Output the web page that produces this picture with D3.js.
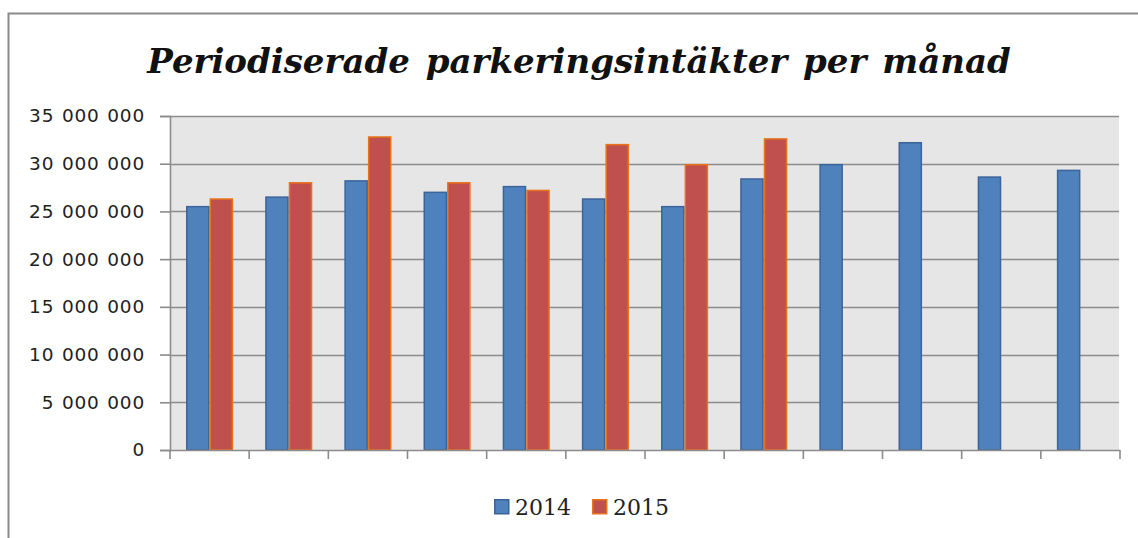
<!DOCTYPE html>
<html>
<head>
<meta charset="utf-8">
<script src="https://cdn.jsdelivr.net/npm/d3@7"></script>
<style>
  html, body { margin: 0; padding: 0; background: #fff; }
  svg { display: block; }
</style>
</head>
<body>
<svg id="chart" width="1138" height="538"></svg>
<script>
// Monthly accrued parking revenue (SEK), Jan–Dec
const months = ["Jan", "Feb", "Mar", "Apr", "Maj", "Jun", "Jul", "Aug", "Sep", "Okt", "Nov", "Dec"];
const seriesNames = ["2014", "2015"];
const values2014 = [25500000, 26500000, 28200000, 27000000, 27600000, 26300000, 25500000, 28400000, 29900000, 32200000, 28600000, 29300000];
const values2015 = [26300000, 28000000, 32800000, 28000000, 27200000, 32000000, 29900000, 32600000, null, null, null, null];
const yTicks = [0, 5000000, 10000000, 15000000, 20000000, 25000000, 30000000, 35000000];
const titleText = "Periodiserade parkeringsintäkter per månad";

const svg = d3.select("#chart");
const W = 1138, H = 538;
const plot = { left: 170, right: 1120, top: 116, bottom: 450 };

// outer chart frame (only top and left edges fall inside the view)
svg.append("path")
  .attr("d", `M8.5,${H} L8.5,13.5 L${W},13.5`)
  .attr("fill", "none")
  .attr("stroke", "#8a8a8a")
  .attr("stroke-width", 2);

// title
svg.append("text")
  .attr("x", 579)
  .attr("y", 73)
  .attr("text-anchor", "middle")
  .attr("font-family", "'DejaVu Serif', serif")
  .attr("font-weight", "bold")
  .attr("font-style", "italic")
  .attr("font-size", 34)
  .attr("word-spacing", 4)
  .attr("fill", "#111")
  .text(titleText);

const x = d3.scaleBand().domain(months).range([plot.left, plot.right]).padding(0);
const y = d3.scaleLinear().domain([0, 35000000]).range([plot.bottom, plot.top]);

// plot area background
svg.append("rect")
  .attr("x", plot.left)
  .attr("y", plot.top)
  .attr("width", plot.right - plot.left - 1)
  .attr("height", plot.bottom - plot.top)
  .attr("fill", "#e6e6e6");

// horizontal gridlines
svg.append("g")
  .selectAll("line")
  .data(yTicks.filter(d => d > 0))
  .join("line")
  .attr("x1", plot.left)
  .attr("x2", plot.right - 1)
  .attr("y1", d => Math.round(y(d)) + 0.5)
  .attr("y2", d => Math.round(y(d)) + 0.5)
  .attr("stroke", "#8c8c8c")
  .attr("stroke-width", 1.6);

// bars
const inner = d3.scaleBand()
  .domain(seriesNames)
  .range([0, x.bandwidth()])
  .paddingOuter(0.68)
  .paddingInner(0);

const rows = months.map((m, i) => ({ month: m, vals: [values2014[i], values2015[i]] }));
const fills = { "2014": "#4f81bd", "2015": "#c0504d" };
const strokes = { "2014": "#3b649a", "2015": "#e8731a" };

const groups = svg.append("g")
  .selectAll("g")
  .data(rows)
  .join("g")
  .attr("transform", d => `translate(${x(d.month)},0)`);

groups.selectAll("rect")
  .data(d => seriesNames.map((s, j) => ({ s, v: d.vals[j] })).filter(e => e.v != null))
  .join("rect")
  .attr("x", d => inner(d.s) + 0.75)
  .attr("y", d => y(d.v))
  .attr("width", inner.bandwidth() - 1.5)
  .attr("height", d => y(0) - y(d.v))
  .attr("fill", d => fills[d.s])
  .attr("stroke", d => strokes[d.s])
  .attr("stroke-width", 1.5);

// y axis
const yAxis = d3.axisLeft(y)
  .tickValues(yTicks)
  .tickSize(10)
  .tickPadding(15)
  .tickFormat(d => d3.format(",")(d).replace(/,/g, " "));
const gy = svg.append("g")
  .attr("transform", `translate(${plot.left},0)`)
  .call(yAxis);
gy.select(".domain").attr("stroke", "#8c8c8c").attr("stroke-width", 1.6);
gy.selectAll(".tick line").attr("stroke", "#8c8c8c").attr("stroke-width", 1.6);
gy.selectAll(".tick text")
  .attr("font-family", "'DejaVu Sans', sans-serif")
  .attr("font-size", 18.5)
  .attr("letter-spacing", 0.8)
  .attr("word-spacing", 1)
  .attr("fill", "#222");

// x axis (category ticks between months, no labels)
const boundaries = months.map(m => x(m)).concat([plot.right]);
const gx = svg.append("g");
gx.append("line")
  .attr("x1", plot.left).attr("x2", plot.right)
  .attr("y1", plot.bottom + 0.5).attr("y2", plot.bottom + 0.5)
  .attr("stroke", "#8c8c8c").attr("stroke-width", 1.6);
gx.selectAll("line.tk")
  .data(boundaries)
  .join("line")
  .attr("class", "tk")
  .attr("x1", d => d).attr("x2", d => d)
  .attr("y1", plot.bottom).attr("y2", plot.bottom + 9)
  .attr("stroke", "#8c8c8c").attr("stroke-width", 1.6);

// legend
const legend = svg.append("g");
const legendItems = [
  { name: "2014", x: 494 },
  { name: "2015", x: 592 }
];
legendItems.forEach(it => {
  legend.append("rect")
    .attr("x", it.x + 0.75)
    .attr("y", 499.75)
    .attr("width", 14)
    .attr("height", 14)
    .attr("fill", fills[it.name])
    .attr("stroke", strokes[it.name])
    .attr("stroke-width", 1.5);
  legend.append("text")
    .attr("x", it.x + 21)
    .attr("y", 515)
    .attr("font-family", "'DejaVu Serif', serif")
    .attr("font-size", 22)
    .attr("fill", "#222")
    .text(it.name);
});
</script>
</body>
</html>
